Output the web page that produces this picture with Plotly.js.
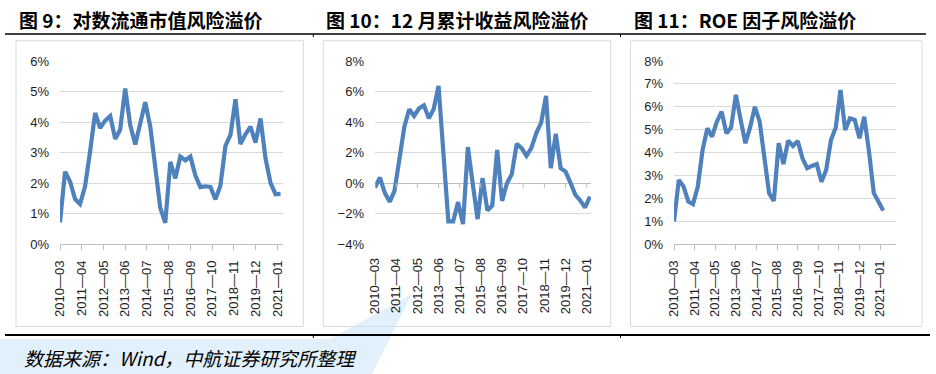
<!DOCTYPE html>
<html>
<head>
<meta charset="utf-8">
<script src="https://cdn.plot.ly/plotly-3.0.1.min.js"></script>
<style>
html,body{margin:0;padding:0;background:#fff;}
#chart{width:936px;height:374px;}
</style>
</head>
<body>
<div id="chart"></div>
<script>
// ---- data ----
const dates = [
  '2010-03','2010-06','2010-09','2010-12',
  '2011-03','2011-06','2011-09','2011-12',
  '2012-03','2012-06','2012-09','2012-12',
  '2013-03','2013-06','2013-09','2013-12',
  '2014-03','2014-06','2014-09','2014-12',
  '2015-03','2015-06','2015-09','2015-12',
  '2016-03','2016-06','2016-09','2016-12',
  '2017-03','2017-06','2017-09','2017-12',
  '2018-03','2018-06','2018-09','2018-12',
  '2019-03','2019-06','2019-09','2019-12',
  '2020-03','2020-06','2020-09','2020-12',
  '2021-03'
];
const logFloatCapPremium = [0.71,2.38,2.05,1.48,1.32,1.9,3.05,4.3,3.8,4.05,4.2,3.45,3.75,5.1,3.9,3.27,3.95,4.65,3.85,2.55,1.2,0.7,2.7,2.16,2.87,2.75,2.87,2.25,1.87,1.9,1.88,1.47,1.92,3.22,3.58,4.75,3.28,3.6,3.85,3.33,4.12,2.81,2.0,1.64,1.65];
const mom12Premium = [-0.28,0.37,-0.63,-1.22,-0.5,1.7,3.7,4.84,4.4,4.9,5.1,4.25,4.84,6.37,1.9,-2.5,-2.5,-1.24,-2.68,2.36,0.0,-2.35,0.33,-1.79,-1.46,2.18,-1.16,0.0,0.59,2.57,2.29,1.79,2.29,3.27,3.97,5.71,0.98,3.23,0.98,0.76,0.04,-0.76,-1.13,-1.59,-0.87];
const roePremium = [0.99,2.81,2.52,1.86,1.75,2.52,4.12,5.06,4.7,5.35,5.79,4.84,5.1,6.52,5.43,4.41,5.1,6.0,5.35,3.68,2.23,1.9,4.41,3.5,4.52,4.29,4.51,3.75,3.32,3.42,3.5,2.73,3.24,4.55,5.1,6.73,4.99,5.5,5.43,4.63,5.57,4.04,2.23,1.86,1.47];

const tickDates = ['2010-03','2011-04','2012-05','2013-06','2014-07','2015-08','2016-09','2017-10','2018-11','2019-12','2021-01'];
const tickLabels = ['2010—03','2011—04','2012—05','2013—06','2014—07','2015—08','2016—09','2017—10','2018—11','2019—12','2021—01'];

const titles = ['图 9：对数流通市值风险溢价','图 10：12 月累计收益风险溢价','图 11：ROE 因子风险溢价'];
const sourceText = '数据来源：Wind，中航证券研究所整理';

// ---- layout helpers (pixel -> paper) ----
const W = 936, H = 374;
const fx = x => x / W;
const fy = y => 1 - y / H;

const LINE = '#4F81BD';
const GRID = '#d9d9d9';
const AXIS = '#bfbfbf';
const tickFont = {family: 'Liberation Sans, Arial, sans-serif', size: 13, color: '#1e1e1e'};

const yDomain = [fy(244.3), fy(61)];

function xAxis(domain, rangeEnd, opts) {
  return Object.assign({
    domain: domain,
    type: 'date',
    range: ['2010-03-01', rangeEnd],
    tickmode: 'array',
    tickvals: tickDates,
    ticktext: tickLabels,
    tickangle: -90,
    tickfont: tickFont,
    ticks: 'outside',
    ticklen: 5,
    tickcolor: AXIS,
    showline: true,
    linecolor: AXIS,
    linewidth: 1,
    showgrid: false,
    zeroline: false,
    ticklabelstandoff: 5,
    fixedrange: true
  }, opts || {});
}
function yAxis(range, dtick, opts) {
  return Object.assign({
    domain: yDomain,
    range: range,
    dtick: dtick,
    tick0: 0,
    ticksuffix: '%',
    tickfont: tickFont,
    showgrid: true,
    gridcolor: GRID,
    gridwidth: 1,
    zeroline: false,
    showline: false,
    ticks: '',
    ticklabelstandoff: 10,
    fixedrange: true
  }, opts || {});
}

const traces = [
  {x: dates, y: logFloatCapPremium, xaxis: 'x', yaxis: 'y', type: 'scatter', mode: 'lines', line: {color: LINE, width: 4.2}, hoverinfo: 'skip'},
  {x: dates, y: mom12Premium, xaxis: 'x2', yaxis: 'y2', type: 'scatter', mode: 'lines', line: {color: LINE, width: 4.2}, hoverinfo: 'skip'},
  {x: dates, y: roePremium, xaxis: 'x3', yaxis: 'y3', type: 'scatter', mode: 'lines', line: {color: LINE, width: 4.2}, hoverinfo: 'skip'}
];

const shapes = [];
// panel boxes
[[16, 303.3], [323.3, 610.7], [630.5, 922]].forEach(b => {
  shapes.push({type: 'rect', xref: 'paper', yref: 'paper', x0: fx(b[0]), x1: fx(b[1]), y0: fy(326.5), y1: fy(40.7), line: {color: GRID, width: 1}, fillcolor: 'rgba(0,0,0,0)', layer: 'below'});
});
// title underline and bottom rule
shapes.push({type: 'line', xref: 'paper', yref: 'paper', x0: fx(5), x1: fx(926), y0: fy(34), y1: fy(34), line: {color: '#000', width: 1.5}});
shapes.push({type: 'line', xref: 'paper', yref: 'paper', x0: fx(5), x1: fx(930), y0: fy(335), y1: fy(335), line: {color: '#000', width: 2}});
[313.3, 620.5].forEach(x => {
  shapes.push({type: 'line', xref: 'paper', yref: 'paper', x0: fx(x), x1: fx(x), y0: fy(34), y1: fy(37), line: {color: '#000', width: 1}});
  shapes.push({type: 'line', xref: 'paper', yref: 'paper', x0: fx(x), x1: fx(x), y0: fy(335), y1: fy(338), line: {color: '#000', width: 1}});
});
// tick marks on the zero line of panel 2
tickDates.forEach(d => {
  shapes.push({type: 'line', xref: 'x2', yref: 'y2', ysizemode: 'pixel', yanchor: 0, x0: d, x1: d, y0: 0, y1: -5, line: {color: AXIS, width: 1}});
});
// faint watermark wedge (bottom-left)
shapes.push({type: 'path', xref: 'paper', yref: 'paper', layer: 'below',
  path: 'M ' + fx(0) + ' ' + fy(339) + ' L ' + fx(330) + ' ' + fy(339) + ' L ' + fx(412) + ' ' + fy(294) + ' L ' + fx(372) + ' ' + fy(374) + ' L ' + fx(0) + ' ' + fy(374) + ' Z',
  fillcolor: 'rgba(200,228,246,0.55)', line: {width: 0}});

const titleFont = {family: 'Noto Sans CJK SC, sans-serif', size: 19, color: '#000', weight: 'bold'};
const annotations = [
  {text: titles[0], x: fx(17), y: fy(20)},
  {text: titles[1], x: fx(324), y: fy(20)},
  {text: titles[2], x: fx(632), y: fy(20)}
].map(a => Object.assign({xref: 'paper', yref: 'paper', xanchor: 'left', yanchor: 'middle', showarrow: false, font: titleFont}, a));
annotations.push({text: sourceText, xref: 'paper', yref: 'paper', x: fx(22), y: fy(357), xanchor: 'left', yanchor: 'middle', showarrow: false,
  font: {family: 'Noto Sans CJK SC, sans-serif', size: 19, color: '#000', style: 'italic'}});

const layout = {
  width: W, height: H,
  margin: {l: 0, r: 0, t: 0, b: 0, pad: 0},
  paper_bgcolor: '#fff',
  plot_bgcolor: 'rgba(0,0,0,0)',
  showlegend: false,
  xaxis: xAxis([fx(60), fx(283)], '2021-04-15'),
  yaxis: yAxis([0, 6], 1, {anchor: 'x'}),
  xaxis2: xAxis([fx(375), fx(591)], '2021-03-21', {anchor: 'y2', showline: false, ticks: '', ticklabelstandoff: 10}),
  yaxis2: yAxis([-4, 8], 2, {anchor: 'x2', zeroline: true, zerolinecolor: AXIS, zerolinewidth: 1}),
  xaxis3: xAxis([fx(674), fx(896)], '2021-11-01', {anchor: 'y3'}),
  yaxis3: yAxis([0, 8], 1, {anchor: 'x3'}),
  shapes: shapes,
  annotations: annotations
};

Plotly.newPlot('chart', traces, layout, {displayModeBar: false, staticPlot: true});
</script>
</body>
</html>
